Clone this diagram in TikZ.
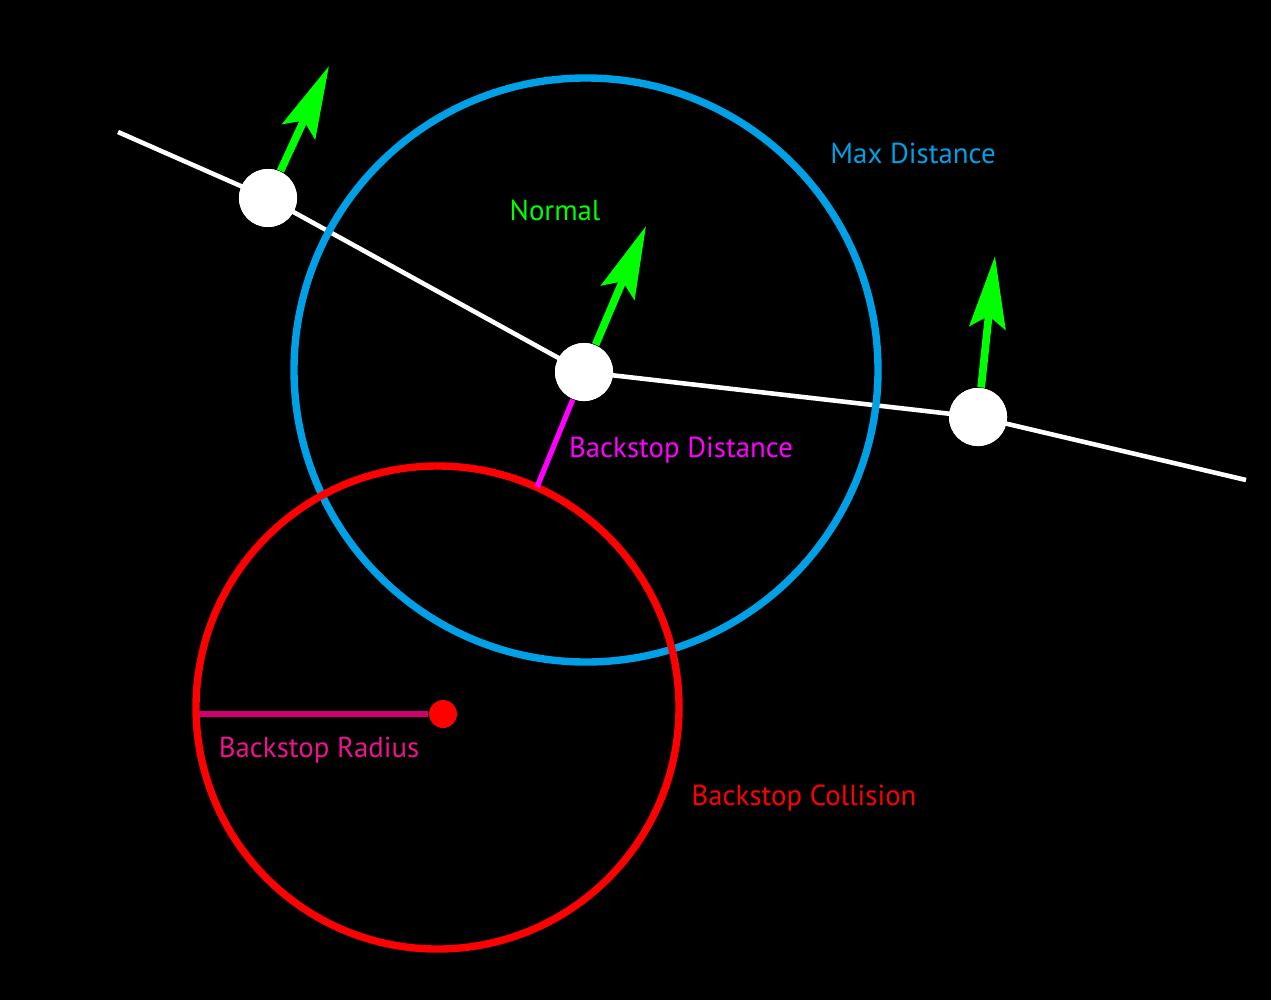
\documentclass[tikz,border=0pt]{standalone}
\usepackage{fontspec}
\setmainfont{PT Sans}
\usetikzlibrary{arrows.meta}
\definecolor{cblue}{RGB}{0,160,230}
\definecolor{cgreen}{RGB}{0,255,0}
\definecolor{cred}{RGB}{255,0,0}
\definecolor{cmag}{RGB}{255,0,255}
\definecolor{crad}{RGB}{210,0,110}
\definecolor{cradtxt}{RGB}{235,20,140}
\begin{document}
\begin{tikzpicture}[x=0.01cm,y=-0.01cm,
  pt/.style={circle,fill=white,inner sep=0pt,minimum size=0.58cm},
  nrm/.style={cgreen,line width=2.2pt,-{Stealth[length=0.72cm,width=0.36cm,inset=0.12cm]}},
  lbl/.style={font=\fontsize{8.2}{10}\selectfont,inner sep=0pt}]
\fill[black] (0,0) rectangle (1271,1000);
\useasboundingbox (0,0) rectangle (1271,1000);
\coordinate (s) at (118,132);
\coordinate (e) at (1246,480);
\node[pt] (p1) at (268,198) {};
\node[pt] (p2) at (584,372) {};
\node[pt] (p3) at (978,417) {};
\draw[white,line width=1.3pt] (s) -- (p1.center) -- (p2.center) -- (p3.center) -- (e);
\node[pt] at (p1) {};\node[pt] at (p2) {};\node[pt] at (p3) {};
\coordinate (a1) at (329,66);
\coordinate (a2) at (646,226);
\coordinate (a3) at (995,256);
\draw[nrm] (p1) -- (a1);
\draw[nrm] (p2) -- (a2);
\draw[nrm] (p3) -- (a3);
\draw[cblue,line width=2.1pt] (586,370) circle (292);
\draw[cred,line width=2.1pt] (437.5,707.5) circle (241.5);
\coordinate (bd) at (537,487);
\draw[cmag,line width=1.5pt] (p2) -- (bd);
\node[circle,fill=cred,inner sep=0pt,minimum size=0.28cm] (c) at (443,714) {};
\coordinate (rl) at (199,714);
\draw[crad,line width=1.5pt] (rl) -- (c);
\node[lbl,text=cblue] (t1) at (913,153) {Max Distance};
\node[lbl,text=cgreen] (t2) at (555,210) {Normal};
\node[lbl,text=cmag] (t3) at (681,450) {Backstop Distance};
\node[lbl,text=cradtxt] (t4) at (319,750) {Backstop Radius};
\node[lbl,text=cred] (t5) at (804,798) {Backstop Collision};
\end{tikzpicture}
\end{document}
